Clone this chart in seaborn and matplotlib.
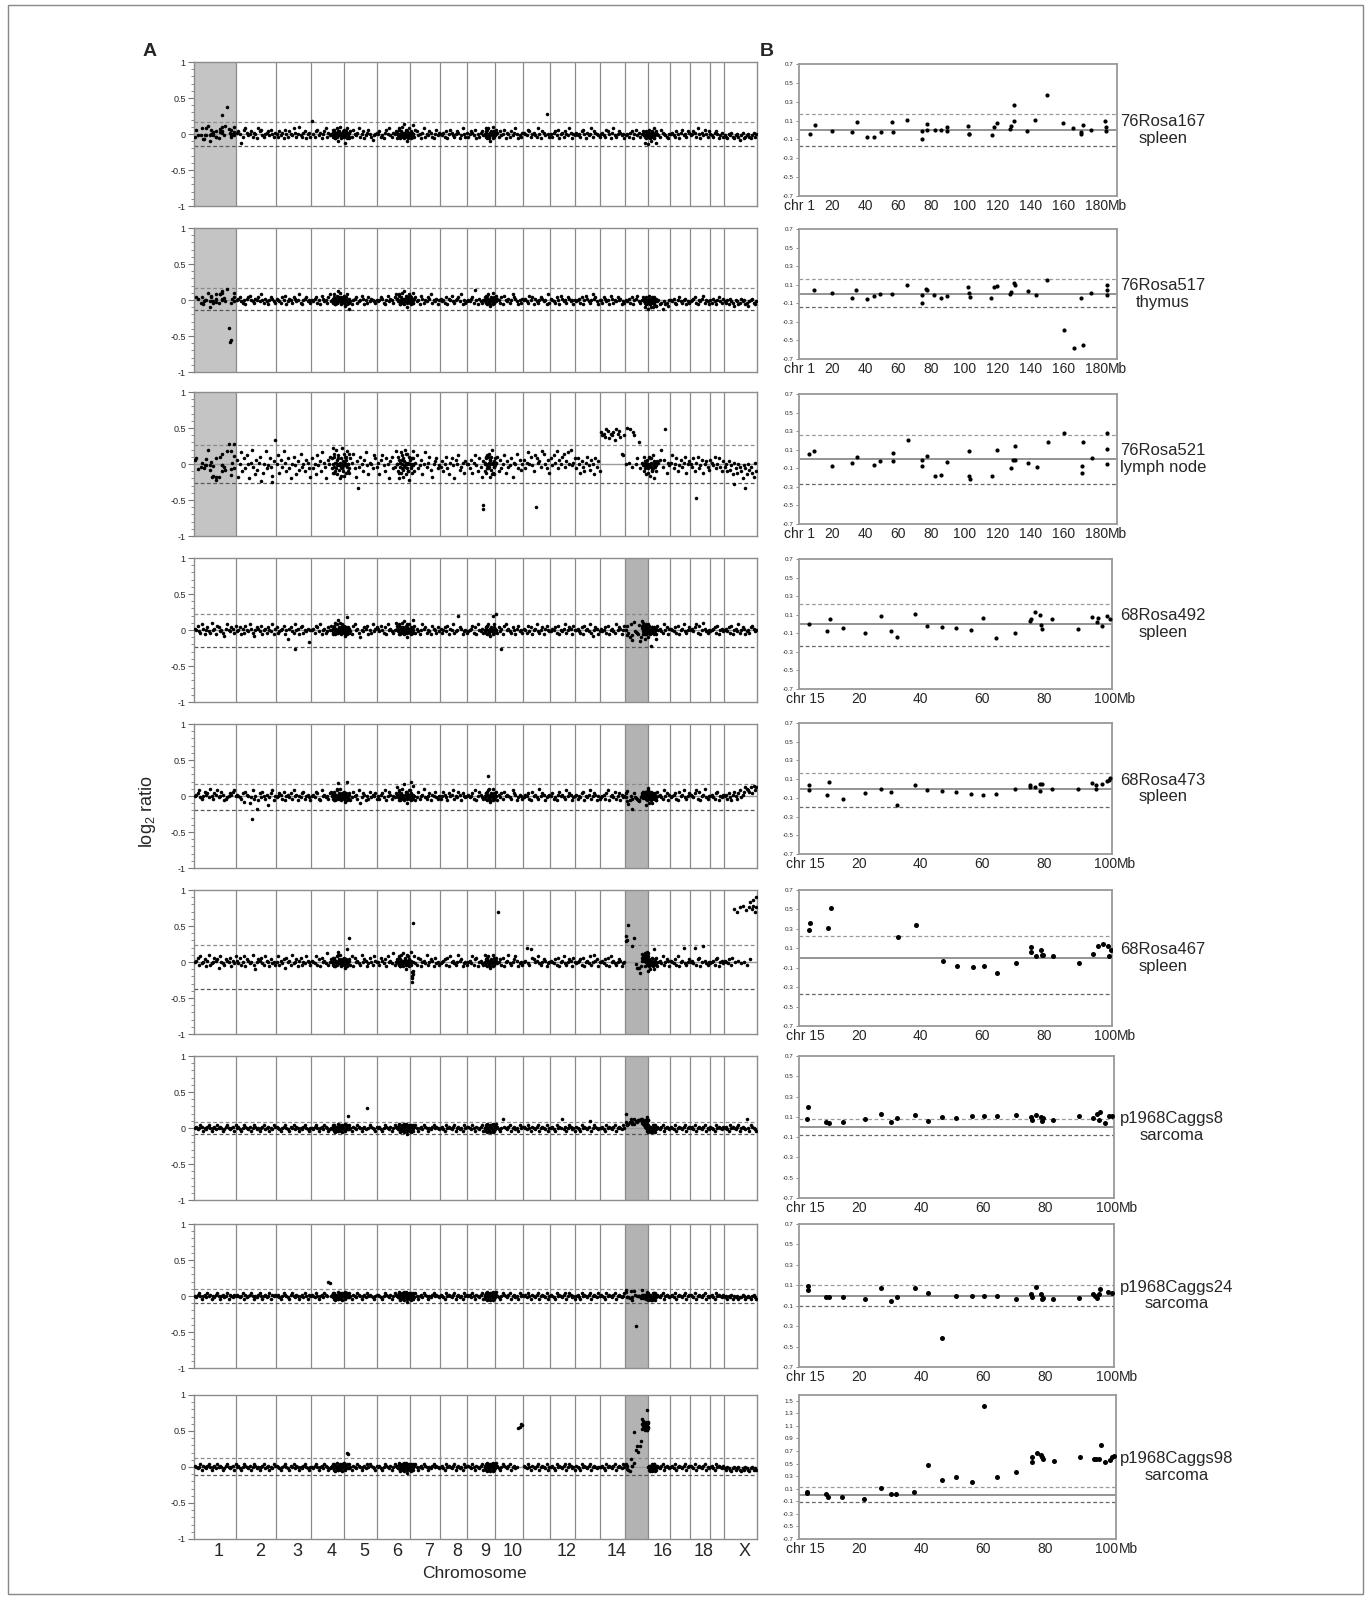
import numpy as np
import matplotlib
matplotlib.use('Agg')
import matplotlib.pyplot as plt
from matplotlib.patches import Rectangle
from matplotlib.ticker import MultipleLocator
import seaborn as sns

sns.set_style('ticks')
plt.rcParams['font.family'] = ['Liberation Sans', 'DejaVu Sans']
plt.rcParams['mathtext.fontset'] = 'custom'
plt.rcParams['mathtext.rm'] = 'Liberation Sans'
plt.rcParams['axes.unicode_minus'] = False

# ---------------- data ----------------
samples = ['76Rosa167', '76Rosa517', '76Rosa521', '68Rosa492', '68Rosa473',
           '68Rosa467', 'p1968Caggs8', 'p1968Caggs24', 'p1968Caggs98']
tissues = ['spleen', 'thymus', 'lymph node', 'spleen', 'spleen', 'spleen',
           'sarcoma', 'sarcoma', 'sarcoma']
zoom_chrom = [1, 1, 1, 15, 15, 15, 15, 15, 15]
thr_hi = [0.17, 0.16, 0.26, 0.22, 0.17, 0.23, 0.08, 0.10, 0.13]
thr_lo = [-0.165, -0.14, -0.27, -0.24, -0.20, -0.37, -0.08, -0.10, -0.105]

chrom_names = ['1', '2', '3', '4', '5', '6', '7', '8', '9', '10', '11', '12',
               '13', '14', '15', '16', '17', '18', '19', 'X']
chrom_width = [92, 86, 77, 72, 72, 72, 64, 60, 60, 61, 59, 55, 54, 54, 50, 48, 43, 43, 31, 72]
chrom_mb = {1: 195, 15: 103}
shown_labels = ['1', '2', '3', '4', '5', '6', '7', '8', '9', '10', '12', '14', '16', '18', 'X']
cluster_span = [(300, 338), (442, 478), (632, 657), (978, 1006)]

# panel B: probe position (Mb) and log2 ratio for the zoomed chromosome
b_mb = [
    [6.7, 9.7, 20, 32.3, 35, 41.2, 45.3, 49.3, 56.4, 57, 65.5, 74.2, 74.5, 77.4, 77.6, 82, 85.6, 89.5,
     89.7, 102, 102.6, 103, 116.6, 117.8, 119.6, 127.5, 128.3, 130, 130.1, 138, 143, 149.9, 159.6,
     165.9, 170.3, 170.3, 171.5, 176.5, 185.2, 185.4, 185.6],
    [8.9, 19.7, 31.9, 34.6, 40.9, 45.1, 49.2, 56.3, 65.2, 74.2, 74.2, 77.0, 77.2, 81.7, 86.0, 89.6,
     102.4, 102.6, 103.3, 116.3, 117.7, 119.5, 127.4, 128.5, 130.3, 130.5, 138.4, 143.5, 150.2,
     160.2, 166.5, 170.7, 171.7, 176.8, 186.0, 186.2, 186.4],
    [6.1, 9.1, 19.9, 32.1, 34.8, 45.3, 49.2, 56.7, 56.9, 65.7, 74.2, 74.6, 77.4, 82.1, 86.0, 89.8,
     102.6, 102.8, 103.5, 116.9, 119.9, 128.3, 129.7, 130.7, 130.9, 138.4, 143.7, 150.4, 160.2,
     170.9, 171.1, 172.0, 177.2, 186.2, 186.4, 186.4],
    [3.8, 9.7, 10.5, 14.9, 21.8, 27.1, 30.5, 32.3, 38.2, 42.2, 47.0, 51.4, 56.5, 60.2, 64.6, 70.7,
     75.7, 75.9, 77.3, 78.8, 79.1, 79.6, 82.8, 91.1, 95.7, 97.3, 97.8, 99.1, 100.6, 101.6],
    [3.6, 3.6, 10.3, 9.5, 14.8, 21.8, 27.1, 30.3, 32.3, 38.2, 42.2, 47.0, 51.4, 56.4, 60.2, 64.4,
     70.6, 75.6, 75.7, 77.3, 78.8, 79.5, 78.9, 82.6, 91.1, 95.7, 97.1, 97.1, 99.1, 100.5, 101.1, 101.6],
    [4.0, 3.9, 9.9, 10.8, 32.6, 38.5, 47.4, 51.7, 56.9, 60.5, 64.9, 71.0, 75.9, 76.0, 77.6, 79.2,
     79.6, 79.9, 83.0, 91.4, 96.0, 97.5, 99.2, 100.9, 101.1, 101.8],
    [3.4, 3.2, 9.2, 10.1, 14.6, 21.7, 27.0, 30.2, 32.2, 37.9, 42.1, 46.8, 51.3, 56.4, 60.2, 64.5,
     70.6, 75.4, 75.7, 77.1, 78.7, 79.1, 79.4, 82.6, 91.0, 95.4, 96.7, 97.6, 97.3, 99.3, 100.5, 101.4],
    [3.4, 3.5, 9.2, 10.2, 14.6, 21.7, 27.1, 30.2, 32.2, 38.0, 42.2, 46.8, 51.3, 56.4, 60.2, 64.5,
     70.5, 75.4, 75.6, 77.1, 78.6, 79.1, 79.4, 82.5, 90.9, 95.4, 96.1, 96.7, 97.2, 97.6, 100.4, 101.5],
    [3.0, 3.1, 9.2, 9.8, 14.4, 21.5, 26.9, 30.1, 32.0, 37.8, 42.1, 46.8, 51.2, 56.5, 60.4, 64.6,
     70.8, 75.8, 76.0, 77.5, 78.6, 79.2, 79.5, 82.8, 91.5, 95.8, 96.5, 97.6, 98.3, 99.6, 101.1,
     101.7, 102.3],
]
b_val = [
    [-0.04, 0.05, -0.01, -0.02, 0.08, -0.07, -0.07, -0.02, 0.08, -0.02, 0.11, -0.10, -0.01, 0.06,
     0.0, 0.0, 0.0, 0.03, -0.01, 0.04, -0.04, -0.04, -0.05, 0.03, 0.07, 0.01, 0.04, 0.27, 0.10,
     -0.01, 0.11, 0.37, 0.07, 0.02, -0.02, -0.04, 0.05, 0.0, 0.10, 0.03, -0.01],
    [0.04, 0.01, -0.04, 0.04, -0.05, -0.02, 0.0, 0.0, 0.10, -0.10, -0.01, 0.05, 0.04, -0.01, -0.04,
     -0.02, 0.08, 0.01, -0.03, -0.04, 0.08, 0.09, 0.0, 0.02, 0.12, 0.10, 0.03, -0.01, 0.15, -0.39,
     -0.58, -0.04, -0.55, 0.01, 0.10, 0.04, -0.01],
    [0.05, 0.09, -0.07, -0.04, 0.02, -0.06, -0.02, -0.02, 0.07, 0.20, -0.08, -0.01, 0.03, -0.18,
     -0.17, -0.03, 0.09, -0.18, -0.22, -0.18, 0.10, -0.10, -0.01, 0.14, -0.01, -0.04, -0.09, 0.18,
     0.28, -0.07, -0.15, 0.18, 0.01, 0.28, 0.11, -0.05],
    [0.0, -0.07, 0.05, -0.04, -0.10, 0.09, -0.07, -0.14, 0.11, -0.02, -0.03, -0.04, -0.06, 0.07,
     -0.15, -0.10, 0.03, 0.05, 0.13, 0.10, -0.01, -0.05, 0.05, -0.05, 0.08, 0.02, 0.07, -0.02, 0.09, 0.05],
    [0.04, -0.02, 0.07, -0.07, -0.11, -0.05, 0.0, -0.04, -0.18, 0.04, -0.02, -0.03, -0.04, -0.06,
     -0.07, -0.06, -0.01, 0.04, 0.02, 0.02, 0.05, 0.05, -0.03, -0.01, -0.01, 0.06, 0.04, -0.01,
     0.05, 0.08, 0.09, 0.11],
    [0.36, 0.29, 0.31, 0.51, 0.22, 0.34, -0.03, -0.08, -0.09, -0.08, -0.15, -0.05, 0.11, 0.06, 0.02,
     0.08, 0.03, 0.03, 0.02, -0.05, 0.04, 0.12, 0.14, 0.12, 0.02, 0.08],
    [0.20, 0.08, 0.05, 0.04, 0.05, 0.08, 0.13, 0.05, 0.09, 0.12, 0.06, 0.10, 0.09, 0.11, 0.11, 0.11,
     0.12, 0.10, 0.07, 0.12, 0.10, 0.06, 0.09, 0.07, 0.11, 0.09, 0.13, 0.15, 0.07, 0.04, 0.11, 0.11],
    [0.09, 0.05, -0.01, -0.01, -0.01, -0.03, 0.07, -0.05, -0.01, 0.07, 0.02, -0.42, 0.0, 0.0, 0.0,
     0.0, -0.03, 0.01, -0.01, 0.08, 0.01, -0.03, -0.02, -0.03, -0.02, 0.01, 0.0, -0.02, 0.01, 0.06,
     0.03, 0.02],
    [0.04, 0.03, 0.01, -0.03, -0.04, -0.06, 0.11, 0.02, 0.02, 0.05, 0.48, 0.24, 0.29, 0.21, 1.41,
     0.29, 0.36, 0.60, 0.53, 0.66, 0.64, 0.61, 0.57, 0.54, 0.60, 0.57, 0.57, 0.57, 0.79, 0.52, 0.56,
     0.61, 0.62],
]

# panel A: log2 ratios read per chromosome, one letter per probe
# lower case: m = 0, step 0.02 (a = -0.24, z = 0.26); upper case: A = 0.28, step 0.02
a_probes = [
    "|nomgkpqnlmoknmjqoplkmnolpmkn|mkolnjpmkomlqnkmrlknojmnk|vmkoplnjmoqknlmpkjnomlkn|lnmjokpmlnqkmojlnpmkilmn|mokljnpmqlknmojpmlnkomjl|nmkpolmjnqkmlonkjmpln|mlnkojmpnlkmonjlqmkn|kmonlpjmknolmqkjnmlo|mnkolmpjnmkolnqmjlkn|nmlpokmnlkqmjonlAmk|mknolpjmnkomlqnjml|nlmkopmjnlmqkonmlk|mnlkpomjnqlkmonlmj|lmknojmplnkmolnm|kmlnjomlkpnmlkjm|mnlkomjnplmkon|lmonkqmjnlpmko|mlknomjlnk|lkjmlnkjlmkilnjklmkjlnkm",
    "|mnolkmjnopmlknmolqmknljmonlk|nmlkompjlnmkonlmqkjmnolmk|mlnokmjpnlmkoqlmnjkmlonm|nmkgljmnoklmpnjmkolnmlkm|lmonkjmplnmkoqnljmknmolp|mknolmjpnkmlonqkmlnjm|nlmkojnmplkmnolqjmkl|mlnoktmjnlkmopnmjlnm|lnmkojpmlnkmqonljmkn|mnlkpmojnlkmonlmjqk|nmlkomjpnlmkonlmjm|lmnkojmpnlkmqnoljm|mkonlmjpnkmlomnjlk|mlnkojmnplkmonjl|kjlhkilmjkgljkim|mlnkjmolkmnjlk|lmnokjmlnpkmlj|mknljmolkn|lkmjnlkimljknlmjkilmnkjl",
    "|pdmuhqjsmcnwkfpinragmvjlqkeoD|msgpkvnhqjcmrlfoitkmhpnjd|qjmfslohunkcpmrjxgnlqmekt|lrmgqntjdokrmhpulfnmjsqk|nfpslhqmcorjkvmgnpiltmhq|mqhnsjlpfmuknridmoqjl|kohmrjfnqlcpmsikngom|mjpgnslhqkdomrjnpfmk|nrhpjmsgoklqdnmtjpim|pjnumrlhsqnokvtmjpg|qlsnvjpmrtkoumwlnq|jqmgokhnrlipmfqkoh|IGHFKJEHGIDKHJFtsG|mLnKkIGmqBjnlrmk|lqjsmhonpwkpKgnl|nsjmqhlpknrgmo|mkqhnrjlpgmoki|pnlrjmqkho|kmhoilfnjgmkhcljfmikgdnh",
    "nmplkqnjmolkrmnjpolmkinqmlonkp|lmojnkpmlqnkimonlpjmnkomlqjn|oklmnpjmgnolkqmnjopkmlnem|mnkpolqjmnklompjnrlkmoqn|kmonljpqmnkhmlonpjmkqlno|nlpmkojqmnlkmrpjnlomkqnm|mopknljmqnokmljpnmkol|nkmolpjnmqklmwonjlmk|lmnpkojqmlnkmopjnlmq|mkolnjpqmnlkomjnplmk|nmkplojmnqlkmojnpml|lnmokpjmlnqkmonjpm|mnlkojpmnlqkimonjl|nlmokpjmnlkqmonjmp||mlonkjpmnlkqmojn|nmlokpjmnqlkmo|mnloqkpjmrnlkm|lmnokpjmnl|mnlokpjmnlqkmonjlmkopnlm",
    "mnoqlkmpnolrmkonqlmpnjklmonpqm|nmlkoipnmhlqkmdjolpmkngloqjm|lmonkpjmnlokqmnjmlopkmnlj|mnlpokjqmnlmkopnjmrlkmon|nmkojlpmnkqhlonjmkplnmok|mknolqjmpnkmlosjnmlkpnmq|onmjlpkmnrlkmojnmplkm|kmpnljomnqkmlpnjomlm|nlmokqjmpnlkmonrjmlk|mjnlokpmnmlkqonjlnmk|lnmokjpmnlkrmonjlmn|mokljnpmnlkqmonjlm|nkmlopjmlnqkmonjmk|lmnkoqjmnlpkmojnlm||mkonljpmnlkqmojn|lmnokjpmnqlkmo|nmloqkpjmnrlkm|mnlkopjmln|mnkoljnpmkoqlnpsrqpsotqs",
    "mnpkqlmojnrklmpnoiqmlkonmpjnlq|nlpkmqjonlmrkhmonplkqnmjolmk|mqknloipmnkrlmojnpkmlqnmk|nmlqkojpmnlskmopjnlrmkon|lnmokqjpmnlkrmonjlpmkqnm|mkpnlojqmnlskmopjnlmkrnm|nmqlkpojmnlrkmonjplmk|lmnokpjqmnlkmrnojlmk|mnlqkopjmnlkrmonjlmp|nlmokpjmnrlkmoqnjlmk|mnwlkvpomnqlkmonjlm|nmlokpjmnqlkmonjpm|lmnokpjmnlqkmrnojm|mnlokpjqmnlkmonjlm||mnlkvpjmnlqkmonj|nmlokqjmnwlkmo|mnlwkopjmxnlkm|lmnkopjmnl|nmlokpXmVnYlZmWkYoXZVY",
    "mnlmonkmlnomkmnlomnmklnomlmnko|mnlkmonmlnkmonlmkmnolmnkmlon|nmlkmnomlknmolnmkmlnomlkm|mlnomkmnlonmklmonmlknmom|nmlomknmlonmkmnlAmonmlkn|mnlkmonmlnkmonmlkmnomlnk|lmnomkmnlonmkmlnomnml|mnlkomnmlnokmnlmkomn|nmlomknmlnokmnmlomkn|mnlkmsnmlnokmnlmkomn|nmlomknmlnokmnmlokm|mnlkomnmslnkmonlmk|nmlkomnmlnrkmonmlm|mnlkomnmlnokmnmlom||mnlkomnmlnokmnml|nmlokmnmlnokmn|mnlokmnmlnokml|nmlkomnmln|mnlkomnmlnokmnmlsmkonmlk",
    "mlnomkmnlomnkmlnomkmnlmoknmlnm|nmlmoknlmnomkmlnomkmnlmoknmn|mnlkmonmlknomlnmkmnlomknm|nmlomkmnlonmwvmonmlknmom|mnlomknmlonmkmnlomnmlkmn|nmlkmonmlnkmonmlkmnomlnk|mnlomkmnlonmkmlnomnml|nmlkomnmlnokmnlmkomn|mnlomknmlnokmnmlomkn|nmlkmonmlnokmnlmkomn|mnlomknmlnokmnmlokm|nmlkomnmlnokmonlmk|mnlkomnmlnokmnmlom|nmlkomnmlnokmnmlmo||nmlkomnmlnokmnml|mnlokmnmlnokmn|nmlokmnmlnokml|mnlkomnmln|lmkmlnkmlmkllnmklmlkmnlk",
    "nmlmoknmlnomkmnlomnmklnomlmnko|mnlkmonmlnkmonlmkmnolmnkmlon|nmlkmnomlknmolnmkmlnomlkm|mlnomkmnlonmklmonmlknmom|nmlomknmlonmkmnlomonmlkn|mnlkmonmlnkmonmlkmnomlnk|lmnomkmnlonmkmlnomnml|mnlkomnmlnokmnlmkomn|nmlomknmlnokmnmlomkn|mnlkmonmlnokmnlmNOQP|nmlomknmlnokmnmlokm|mnlkomnmlnokmonlmk|nmlkomnmlnokmnmlmm|mnlkomnmlnokmnmlom||nmlkomnmlnokmnml|mnlokmnmlnokmn|nmlokmnmlnokml|mnlkomnmln|lkmlkjlmklmkjlkmlkjlmklk",
]
# dense probe clusters (end of chr4, chr6, chr9 and chr15/16 border)
a_clusters = [
    "mnlkopjmnlqkmhonlmrkjnmolpkgmnloqjmlnk|nmlpqkjmorlnkmtjlnmpokhmlnqmkjonlmsk|mlnkopjmqlknmhonlmrjkmonlp|lmkgnjomlfkmnpjlkhmonlkmqjlmgn",
    "mnlkoqjmnlpkmsonlmrkjnmolpkimnloqjmlnk|nmlpqkjmorlnkmsjlnmpokhmlnqmkjonlmrk|mlnkopjmqlknmionlmrjkmonlp|lmkhnjomlgkmnpjlkhmonlkmojlmin",
    "qgmtkrhnjwfpmsilcnqkxjmhoelrngpvkmhtj|mrhpcnkugmsjqdolwknfmtjhnrbmpkjqgvlm|nhqmgslrjtkdpmirnwgmokfqln|mhlojfnkpgmjrlemnkqhimjolcnkml",
    "mnlkopjmnlqkmtonlmrkjnmolpkimnlovjmlnk|nmlpqkjmorlnkmsjlnmpokhmlnqmkjonlmtk|mlnkopjmqlknmionlmwjkmonlx|lmkgnjomlhkmnpjlkbmonlkmojlmgn",
    "mnlkopjmnlqkmvonlmrkjnmolpkimnlowjmlnk|nmlpqkjmorlnkmujlnmpokhmlnqmkjwnlmtk|mlnkopjmqlknmionlmrjkmonlp|onpmlkgnjomlhkmnpjlkhmonlkmojl",
    "mnlkopjmnlqkmtonlmrkjnmolpkimnlovjmlnD|nmlpqkjmorlnkmsjlnmpokhmlnqmkjonlmtkfcbegN|mlnkopjmqlknmionlmrjkmonlp|qrpsnqmlkgnjomlhkmnpjlkhmonlk",
    "mnlkomjnmlpkmnolmkjnmolpkmnlouml|nmlpokjmnolnkmpjlnmpokimlnomkjonlmok|mlnkopjmolknmjonlmpjkmonlp|pqopnqomlknjomlkkmnljlkjmonlkmojlm",
    "nmlkomjnmlpkmnolmkjnmolpkmnlomml|mnlpokjmnolnkmpjlnmpokimlnomkjonlmok|nlmkopjmolknmjonlmpjkmonlp|mnlmnlkmlknjomlkkmnljlkjmonlkmojlm",
    "nmlkomjnmlpkmnolmkjnmolpkmnlowvml|mnlpokjmnolnkmpjlnmpokimlnomkjonlmok|nlmkopjmolknmjonlmpjkmonlp|NPOQMNRPOMQNmlkmnljlkjmonlkmojlmkn",
]
# single probes outside the letter range: (chromosome, fraction along it, log2 ratio)
a_extra = [
    [], [],
    [(9, 0.55, -0.57), (9, 0.56, -0.63), (11, 0.47, -0.60), (5, 0.40, -0.34),
     (18, 0.30, -0.47), (20, 0.31, -0.28), (20, 0.63, -0.33), (2, 0.90, -0.25)],
    [(3, 0.55, -0.27), (10, 0.20, -0.26)],
    [(2, 0.40, -0.32), (9, 0.75, 0.28)],
    [(10, 0.10, 0.70), (7, 0.05, -0.28), (20, 0.78, 0.84), (20, 0.88, 0.86), (20, 0.97, 0.90)],
    [], [], [],
]


def decode(ch):
    if ch.islower():
        return (ord(ch) - ord('m')) * 0.02
    return 0.28 + (ord(ch) - ord('A')) * 0.02


edges = np.concatenate([[0], np.cumsum(chrom_width)])


def panel_a_points(i):
    xs, ys = [], []
    for c, chunk in enumerate(a_probes[i].split('|')):
        for k, ch in enumerate(chunk):
            xs.append(edges[c] + (k + 0.5) / len(chunk) * chrom_width[c])
            ys.append(decode(ch))
    for (lo, hi), chunk in zip(cluster_span, a_clusters[i].split('|')):
        for k, ch in enumerate(chunk):
            xs.append(lo + (k + 0.5) / len(chunk) * (hi - lo))
            ys.append(decode(ch))
    zc = zoom_chrom[i]
    for mb, v in zip(b_mb[i], b_val[i]):
        xs.append(edges[zc - 1] + mb / chrom_mb[zc] * chrom_width[zc - 1])
        ys.append(v)
    for c, frac, v in a_extra[i]:
        xs.append(edges[c - 1] + frac * chrom_width[c - 1])
        ys.append(v)
    return xs, ys


# ---------------- layout ----------------
W, H = 1371, 1602
fig = plt.figure(figsize=(W / 100, H / 100), dpi=100)


def add_ax(left, top, width, height):
    return fig.add_axes([left / W, 1 - (top + height) / H, width / W, height / H])


a_top = [62, 228, 392, 558, 724, 890, 1056, 1224, 1395]
b_top = [64, 229, 394, 559, 723, 890, 1056, 1224, 1395]
b_h = [132, 130, 130, 130, 131, 136, 142, 143, 144]
b_right = [1117, 1117, 1117, 1112, 1112, 1112, 1114, 1114, 1116]
frame_col = '#8c8c8c'

for i in range(9):
    # ----- panel A -----
    ax = add_ax(194, a_top[i], 563, 144)
    zc = zoom_chrom[i]
    ax.axvspan(edges[zc - 1], edges[zc], color='#c4c4c4' if zc == 1 else '#b3b3b3', lw=0, zorder=0)
    for e in edges[1:-1]:
        ax.axvline(e, color='#8a8a8a', lw=0.9, zorder=1)
    ax.axhline(0, color='#9a9a9a', lw=1.0, zorder=1)
    ax.axhline(thr_hi[i], color='#8a8a8a', lw=0.9, ls=(0, (3, 2)), zorder=1)
    ax.axhline(thr_lo[i], color='#555555', lw=0.9, ls=(0, (3, 2)), zorder=1)
    xs, ys = panel_a_points(i)
    sns.scatterplot(x=xs, y=ys, ax=ax, color='black', s=6.5, linewidth=0, legend=False, zorder=3)
    ax.set_xlim(0, edges[-1])
    ax.set_ylim(-1, 1)
    ax.set_yticks([-1, -0.5, 0, 0.5, 1])
    ax.set_yticklabels(['-1', '-0.5', '0', '0.5', '1'])
    ax.yaxis.set_minor_locator(MultipleLocator(0.1))
    ax.tick_params(axis='y', which='major', length=4, width=0.8, color='#777777',
                   labelsize=6.5, pad=2)
    ax.tick_params(axis='y', which='minor', length=2.5, width=0.6, color='#777777')
    if i == 8:
        centers = [(edges[k] + edges[k + 1]) / 2 + 8 for k in range(20)]
        ticks = [centers[chrom_names.index(n)] for n in shown_labels]
        ax.set_xticks(ticks)
        ax.set_xticklabels(shown_labels, fontsize=13)
        ax.tick_params(axis='x', length=0, pad=3)
    else:
        ax.set_xticks([])
    for s in ax.spines.values():
        s.set_color(frame_col)
        s.set_linewidth(1.0)

    # ----- panel B -----
    bx = add_ax(799, b_top[i], b_right[i] - 799, b_h[i])
    bx.axhline(0, color='#777777', lw=1.1, zorder=1)
    bx.axhline(thr_hi[i], color='#9a9a9a', lw=0.9, ls=(0, (3, 2)), zorder=1)
    bx.axhline(thr_lo[i], color='#666666', lw=0.9, ls=(0, (3, 2)), zorder=1)
    sns.scatterplot(x=b_mb[i], y=b_val[i], ax=bx, color='black', s=9 if i < 5 else 13,
                    linewidth=0, legend=False, zorder=3)
    if zc == 1:
        bx.set_xlim(0, 192.3)
        xt = [0, 20, 40, 60, 80, 100, 120, 140, 160, 180]
        xl = ['chr 1'] + [str(t) for t in xt[1:]]
    else:
        bx.set_xlim(0.5, 103 if i == 8 else 102.2)
        xt = [2.5, 20, 40, 60, 80, 100]
        xl = ['chr 15', '20', '40', '60', '80', '100']
    bx.set_xticks(xt)
    bx.set_xticklabels(xl, fontsize=10)
    bx.tick_params(axis='x', length=0, pad=2)
    bx.annotate('Mb', xy=(xt[-1], 0), xycoords=bx.get_xaxis_transform(),
                xytext=(8.4, -2), textcoords='offset points', ha='left', va='top', fontsize=10)
    top = 1.59 if i == 8 else 0.7
    bx.set_ylim(-0.7, top)
    yt = np.round(np.arange(-0.7, top + 0.01, 0.2), 1)
    bx.set_yticks(yt)
    bx.set_yticklabels([f'{t:.1f}' for t in yt], fontsize=4.5)
    bx.tick_params(axis='y', length=2.5, width=0.6, color='#777777', pad=1.5)
    for s in bx.spines.values():
        s.set_color('#999999')
        s.set_linewidth(1.3)

    yc = b_top[i] + b_h[i] / 2
    fig.text(1120 / W, 1 - yc / H, f'{samples[i]}\n{tissues[i]}', ha='left', va='center',
             multialignment='center', fontsize=12, linespacing=1.15)

fig.text(150 / W, 1 - 52 / H, 'A', fontsize=14, fontweight='bold', ha='center', va='center')
fig.text(767 / W, 1 - 52 / H, 'B', fontsize=14, fontweight='bold', ha='center', va='center')
fig.text(148 / W, 1 - 812 / H, 'log$_2$ ratio', rotation=90, fontsize=13, ha='center', va='center')
fig.text(474 / W, 1 - 1573 / H, 'Chromosome', fontsize=12.5, ha='center', va='center')
fig.patches.append(Rectangle((8 / W, 1 - 1594 / H), 1355 / W, 1589 / H, transform=fig.transFigure,
                             fill=False, ec='#888888', lw=1))

fig.savefig('out.png', dpi=100)
